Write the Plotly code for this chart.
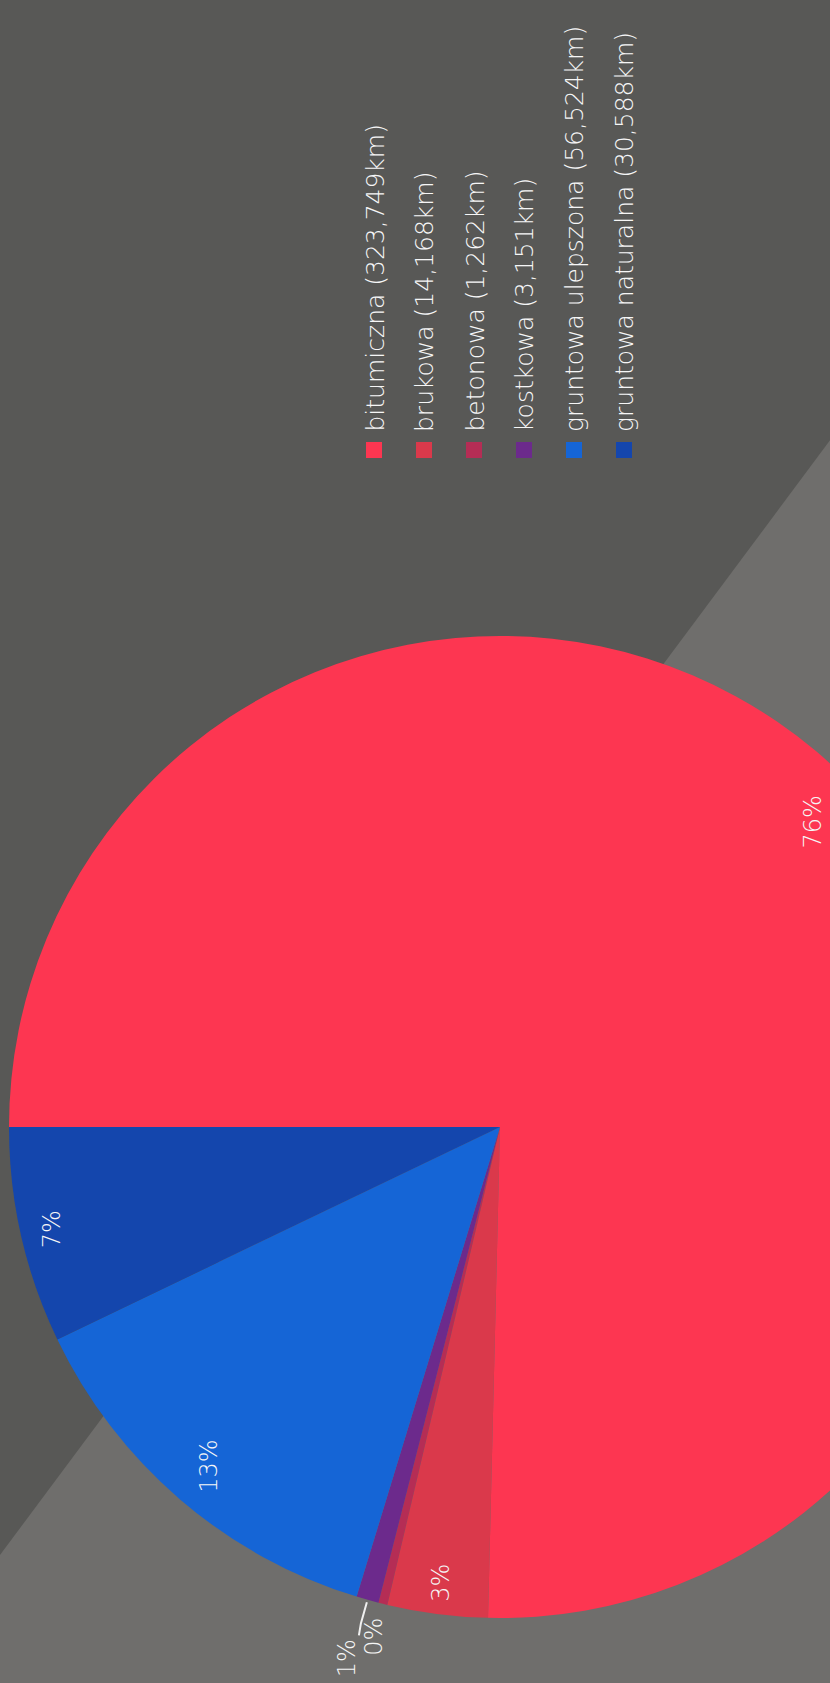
import math
import plotly.graph_objects as go

# ---- data ----
categories = ["bitumiczna", "brukowa", "betonowa", "kostkowa",
              "gruntowa ulepszona", "gruntowa naturalna"]
values_km = [323749, 14168, 1262, 3151, 56524, 30588]
pct_labels = ["76%", "3%", "0%", "1%", "13%", "7%"]

# ---- style ----
colors = ["#fd3651", "#da394b", "#b52d55", "#6c2a8c", "#1565d6", "#1446ad"]
W, H = 1000, 1683
CX, CY, R = 500, 1127, 491          # pie centre / radius in px
ROT = 270                           # first slice starts at 9 o'clock
label_rf = [0.89, 0.935, 1.07, None, 0.91, 0.935]
FONT = "DejaVu Sans"
TXT = "#f6f6f6"

def px(x):
    return x / W

def py(y):
    return 1 - y / H

fig = go.Figure()
fig.add_trace(go.Pie(
    labels=categories, values=values_km, sort=False, direction="clockwise",
    rotation=ROT, textinfo="none", hoverinfo="label+value+percent",
    marker=dict(colors=colors, line=dict(width=0)), showlegend=False,
    domain=dict(x=[px(CX - R), px(CX + R)], y=[py(CY + R), py(CY - R)]),
))

total = sum(values_km)
ann = []
shapes = []
# background: lighter diagonal region
shapes.append(dict(type="path", xref="paper", yref="paper", layer="below",
                   path=f"M 0 {py(1555)} L 1 {py(1555 - W * 1.343)} L 1 0 L 0 0 Z",
                   fillcolor="#6f6e6c", line=dict(width=0)))

cum = 0.0
for i, v in enumerate(values_km):
    mid = ROT + 360 * (cum + v / (2 * total))
    cum += v / total
    a = math.radians(mid)
    if label_rf[i] is not None:
        rr = R * label_rf[i]
        x = CX + rr * math.sin(a)
        y = CY - rr * math.cos(a)
        ann.append(dict(x=px(x), y=py(y), xref="paper", yref="paper",
                        text=pct_labels[i], showarrow=False, textangle=-90,
                        font=dict(family=FONT, size=24, color=TXT, weight=200),
                        xanchor="center", yanchor="middle"))
    else:
        x0 = CX + R * 1.005 * math.sin(a)
        y0 = CY - R * 1.005 * math.cos(a)
        x1 = CX + R * 1.05 * math.sin(a)
        y1 = CY - R * 1.05 * math.cos(a)
        x2, y2 = x1 - 2, y1 + 12
        shapes.append(dict(type="path", xref="paper", yref="paper",
                           path=f"M {px(x0)} {py(y0)} L {px(x1)} {py(y1)} L {px(x2)} {py(y2)}",
                           line=dict(color="#f0f0f0", width=2)))
        ann.append(dict(x=px(x2 - 11), y=py(y2 + 2), xref="paper", yref="paper",
                        text=pct_labels[i], showarrow=False, textangle=-90,
                        font=dict(family=FONT, size=24, color=TXT, weight=200),
                        xanchor="center", yanchor="top"))

# legend (rotated)
for i, (c, v) in enumerate(zip(categories, values_km)):
    lx = 374 + 50 * i
    shapes.append(dict(type="rect", xref="paper", yref="paper",
                       x0=px(lx - 8), x1=px(lx + 8), y0=py(458), y1=py(442),
                       fillcolor=colors[i], line=dict(width=0)))
    ann.append(dict(x=px(lx + 1), y=py(434), xref="paper", yref="paper",
                    text=f"{c} ({v:,}km)", showarrow=False, textangle=-90,
                    font=dict(family=FONT, size=25, color=TXT, weight=200),
                    xanchor="center", yanchor="bottom"))

fig.update_layout(
    width=W, height=H, margin=dict(l=0, r=0, t=0, b=0),
    paper_bgcolor="#585856", plot_bgcolor="#585856",
    annotations=ann, shapes=shapes, showlegend=False,
)
fig.write_html(
    "out.html",
    post_script="document.body.style.margin='0';"
                "document.documentElement.style.overflow='hidden';",
)
